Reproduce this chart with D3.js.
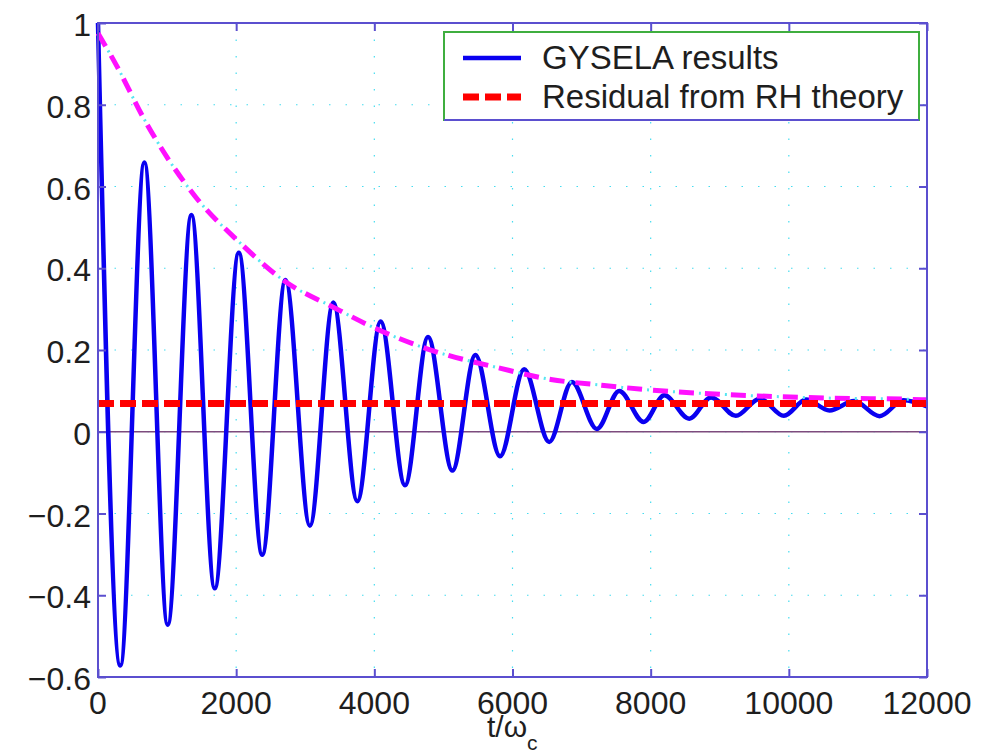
<!DOCTYPE html>
<html>
<head>
<meta charset="utf-8">
<script src="https://cdn.jsdelivr.net/npm/d3@7"></script>
<style>
  body { margin: 0; background: #fff; }
  svg text { font-family: "Liberation Sans", Arial, Helvetica, sans-serif; }
</style>
</head>
<body>
<svg id="chart" width="989" height="754"></svg>
<script>
// GYSELA trace: time (in 1/ω_c) and value at each turning point
const gyselaT = [0, 323, 671, 1009, 1352, 1690, 2038, 2377, 2714, 3067, 3406, 3754,
  4091, 4444, 4777, 5130, 5463, 5820, 6168, 6531, 6859, 7222, 7545, 7899, 8198,
  8559, 8874, 9232, 9580, 9928, 10250, 10589, 10945, 11313, 11660, 12000];
const gyselaV = [1.0, -0.572, 0.659, -0.472, 0.530, -0.383, 0.438, -0.301, 0.371, -0.230,
  0.316, -0.170, 0.270, -0.131, 0.232, -0.095, 0.188, -0.060, 0.153, -0.025, 0.122,
  0.007, 0.100, 0.024, 0.089, 0.032, 0.084, 0.039, 0.081, 0.039, 0.079, 0.052, 0.075,
  0.038, 0.077, 0.062];

// decay envelope (dash-dot guide)
const envelopeT = [0, 275, 661, 1410, 2038, 2714, 3391, 4067, 4743, 5830, 6555, 7280,
  8004, 8729, 9500, 10661, 11628, 12000];
const envelopeV = [0.975, 0.894, 0.767, 0.575, 0.465, 0.367, 0.306, 0.249, 0.204, 0.155,
  0.128, 0.114, 0.102, 0.094, 0.088, 0.082, 0.080, 0.078];

// Rosenbluth–Hinton residual level
const residual = 0.069;

const xTicks = [0, 2000, 4000, 6000, 8000, 10000, 12000];
const xTickLabels = ["0", "2000", "4000", "6000", "8000", "10000", "12000"];
const yTicks = [-0.6, -0.4, -0.2, 0, 0.2, 0.4, 0.6, 0.8, 1];
const yTickLabels = ["\u22120.6", "\u22120.4", "\u22120.2", "0", "0.2", "0.4", "0.6", "0.8", "1"];
const legendLabels = ["GYSELA results", "Residual from RH theory"];

const svg = d3.select("#chart");
const plotL = 98, plotR = 927, plotT = 23, plotB = 677;

const x = d3.scaleLinear().domain([0, 12000]).range([plotL, plotR]);
const y = d3.scaleLinear().domain([-0.6, 1]).range([plotB, plotT]);

const frameColor = "#5b4fcf";
const gridColor = "#45dcf0";

svg.append("rect").attr("width", 989).attr("height", 754).attr("fill", "#fff");

// dotted grid
const grid = svg.append("g");
grid.append("g").selectAll("line").data(xTicks.slice(1, -1)).join("line")
  .attr("x1", d => x(d)).attr("x2", d => x(d))
  .attr("y1", plotT).attr("y2", plotB)
  .attr("stroke", gridColor).attr("stroke-width", 1.2)
  .attr("stroke-dasharray", "1.5 15");
grid.append("g").selectAll("line").data(yTicks.slice(1, -1)).join("line")
  .attr("x1", plotL).attr("x2", plotR)
  .attr("y1", d => y(d)).attr("y2", d => y(d))
  .attr("stroke", gridColor).attr("stroke-width", 1.2)
  .attr("stroke-dasharray", "1.5 15");

// zero line
svg.append("line")
  .attr("x1", plotL).attr("x2", plotR)
  .attr("y1", y(0)).attr("y2", y(0))
  .attr("stroke", "#7d4b7d").attr("stroke-width", 1.5);

// GYSELA curve
const gysela = gyselaT.map((t, i) => [t, gyselaV[i]]);
const line = d3.line().x(d => x(d[0])).y(d => y(d[1])).curve(d3.curveMonotoneX);
svg.append("path").datum(gysela)
  .attr("d", line)
  .attr("fill", "none").attr("stroke", "#0a00f0")
  .attr("stroke-width", 4.5).attr("stroke-linejoin", "round");

// envelope: magenta dashes with small dots between
const envelope = envelopeT.map((t, i) => [t, envelopeV[i]]);
svg.append("path").datum(envelope)
  .attr("d", line)
  .attr("fill", "none").attr("stroke", "#ff10ff")
  .attr("stroke-width", 5).attr("stroke-dasharray", "15 11");
svg.append("path").datum(envelope)
  .attr("d", line)
  .attr("fill", "none").attr("stroke", "#55e6f2")
  .attr("stroke-width", 3).attr("stroke-dasharray", "0 20 2 4");

// residual level
svg.append("line")
  .attr("x1", x(0)).attr("x2", x(12000))
  .attr("y1", y(residual)).attr("y2", y(residual))
  .attr("stroke", "#ff0000").attr("stroke-width", 7)
  .attr("stroke-dasharray", "16 6");

// axes box and inward ticks
svg.append("rect")
  .attr("x", plotL).attr("y", plotT)
  .attr("width", plotR - plotL).attr("height", plotB - plotT)
  .attr("fill", "none").attr("stroke", frameColor).attr("stroke-width", 2);

const tickLen = 8;
const axBottom = d3.axisBottom(x).tickValues(xTicks).tickSizeInner(-tickLen).tickSizeOuter(0).tickFormat("");
const axTop = d3.axisTop(x).tickValues(xTicks).tickSizeInner(-tickLen).tickSizeOuter(0).tickFormat("");
const axLeft = d3.axisLeft(y).tickValues(yTicks).tickSizeInner(-tickLen).tickSizeOuter(0).tickFormat("");
const axRight = d3.axisRight(y).tickValues(yTicks).tickSizeInner(-tickLen).tickSizeOuter(0).tickFormat("");
[[axBottom, `translate(0,${plotB})`], [axTop, `translate(0,${plotT})`],
 [axLeft, `translate(${plotL},0)`], [axRight, `translate(${plotR},0)`]].forEach(([ax, tr]) => {
  const g = svg.append("g").attr("transform", tr).call(ax);
  g.select(".domain").remove();
  g.selectAll("line").attr("stroke", frameColor).attr("stroke-width", 2);
});

// tick labels
svg.append("g").selectAll("text").data(xTicks).join("text")
  .attr("x", d => x(d)).attr("y", 713.5)
  .attr("text-anchor", "middle").attr("font-size", 32).attr("fill", "#1e1e1e")
  .text((d, i) => xTickLabels[i]);
svg.append("g").selectAll("text").data(yTicks).join("text")
  .attr("x", 91).attr("y", d => y(d) + 13)
  .attr("text-anchor", "end").attr("font-size", 32).attr("fill", "#1e1e1e")
  .text((d, i) => yTickLabels[i]);

// x-axis title
const xt = svg.append("text").attr("x", 487).attr("y", 737)
  .attr("font-size", 30).attr("fill", "#1e1e1e");
xt.append("tspan").text("t/\u03c9");
xt.append("tspan").attr("dy", 13).attr("font-size", 21).text("c");

// legend
const lg = svg.append("g");
lg.append("rect").attr("x", 444).attr("y", 32).attr("width", 475).attr("height", 88)
  .attr("fill", "#fff").attr("stroke", "#3fae3f").attr("stroke-width", 2);
lg.append("line").attr("x1", 444).attr("x2", 919).attr("y1", 120).attr("y2", 120)
  .attr("stroke", frameColor).attr("stroke-width", 2);
lg.append("line").attr("x1", 463).attr("x2", 521).attr("y1", 58).attr("y2", 58)
  .attr("stroke", "#0a00f0").attr("stroke-width", 4.5);
lg.append("line").attr("x1", 463).attr("x2", 521).attr("y1", 97).attr("y2", 97)
  .attr("stroke", "#ff0000").attr("stroke-width", 7).attr("stroke-dasharray", "16 6");
lg.append("g").selectAll("text").data(legendLabels).join("text")
  .attr("x", 542).attr("y", (d, i) => 68.5 + i * 39.5)
  .attr("font-size", 33).attr("fill", "#1e1e1e")
  .text(d => d);
</script>
</body>
</html>
